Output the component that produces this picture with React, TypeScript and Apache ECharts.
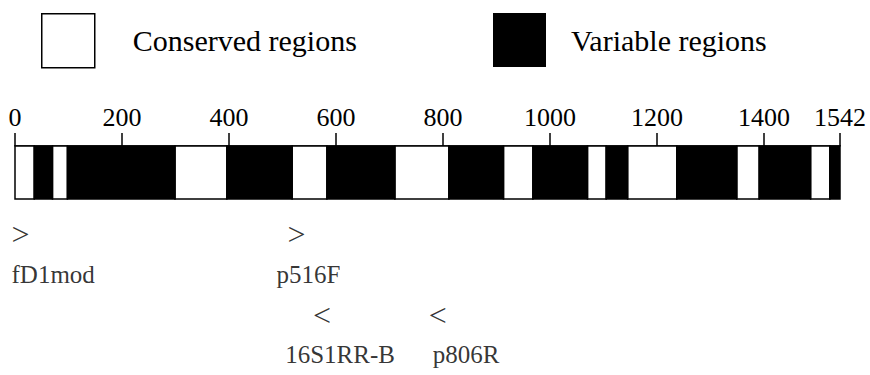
import { useEffect, useRef } from "react";
import * as echarts from "echarts";

const sequenceLength = 1542;
const tickStep = 200;
const conservedRegions = [
  [0, 36], [70, 98], [299, 396], [518, 583], [710, 811],
  [913, 968], [1070, 1105], [1145, 1237], [1349, 1391], [1487, 1523],
];
const variableRegions = [
  [36, 70], [98, 299], [396, 518], [583, 710], [811, 913],
  [968, 1070], [1105, 1145], [1237, 1349], [1391, 1487], [1523, 1542],
];
const primerNames = ["fD1mod", "p516F", "16S1RR-B", "p806R"];
const primerPositions = [0, 516, 590, 806];
const primerStrands = ["forward", "forward", "reverse", "reverse"];
const rowNames = ["forward arrow", "forward name", "reverse arrow", "reverse name"];

// layout only: horizontal shift of each primer's name label (px)
const nameOffsets = [-4, -15, -46, -14];

const FONT = "'Liberation Serif', 'Times New Roman', serif";

export default function App() {
  const ref = useRef<HTMLDivElement>(null);
  useEffect(() => {
    if (!ref.current) return;
    const chart = echarts.init(ref.current, undefined, { renderer: "svg" });
    const renderRegion = (fill: string) => (_params: any, api: any) => {
      const p0 = api.coord([api.value(0), 1]);
      const p1 = api.coord([api.value(1), 0]);
      return {
        type: "rect",
        shape: { x: p0[0], y: p0[1], width: p1[0] - p0[0], height: p1[1] - p0[1] },
        style: { fill, stroke: "#000", lineWidth: 1.5 },
      };
    };
    const arrowData = primerPositions.map((p, i) => {
      const fwd = primerStrands[i] === "forward";
      return {
        value: [p, fwd ? rowNames[0] : rowNames[2]],
        label: {
          position: fwd ? "right" : "left",
          formatter: fwd ? ">" : "<",
          offset: [fwd ? -4 : 1, 0],
        },
      };
    });
    const nameData = primerPositions.map((p, i) => {
      const fwd = primerStrands[i] === "forward";
      return {
        value: [p, fwd ? rowNames[1] : rowNames[3]],
        label: { formatter: primerNames[i], offset: [nameOffsets[i], 0] },
      };
    });
    chart.setOption({
      animation: false,
      backgroundColor: "#fff",
      legend: [
        {
          data: [
            { name: "Conserved regions", icon: "rect", itemStyle: { color: "#fff", borderColor: "#000", borderWidth: 1.5 } },
          ],
          left: 41,
          top: 13,
          padding: 0,
          itemWidth: 53,
          itemHeight: 54,
          selectedMode: false,
          textStyle: { fontSize: 30, fontFamily: FONT, color: "#000", padding: [0, 0, 0, 33] },
        },
        {
          data: [{ name: "Variable regions", icon: "rect", itemStyle: { color: "#000", borderWidth: 0 } }],
          left: 493,
          top: 13,
          padding: 0,
          itemWidth: 53,
          itemHeight: 54,
          selectedMode: false,
          textStyle: { fontSize: 30, fontFamily: FONT, color: "#000", padding: [0, 0, 0, 20] },
        },
      ],
      grid: [
        { left: 15, right: 30, top: 146, height: 53 },
        { left: 15, right: 30, top: 214, height: 164 },
      ],
      xAxis: [
        {
          gridIndex: 0,
          type: "value",
          position: "top",
          min: 0,
          max: sequenceLength,
          interval: tickStep,
          axisLine: { show: true, onZero: false, lineStyle: { color: "#000", width: 1.5 } },
          axisTick: { show: true, length: 13, lineStyle: { color: "#000", width: 1.5 } },
          axisLabel: {
            show: true,
            showMinLabel: true,
            showMaxLabel: true,
            formatter: (v: number) => String(v),
            fontSize: 26,
            fontFamily: FONT,
            color: "#000",
            margin: 16,
          },
          splitLine: { show: false },
        },
        { gridIndex: 1, type: "value", min: 0, max: sequenceLength, show: false },
      ],
      yAxis: [
        { gridIndex: 0, type: "value", min: 0, max: 1, show: false },
        { gridIndex: 1, type: "category", data: rowNames, inverse: true, show: false },
      ],
      series: [
        {
          name: "Conserved regions",
          type: "custom",
          xAxisIndex: 0,
          yAxisIndex: 0,
          itemStyle: { color: "#fff" },
          renderItem: renderRegion("#fff"),
          encode: { x: [0, 1] },
          data: conservedRegions,
        },
        {
          name: "Variable regions",
          type: "custom",
          xAxisIndex: 0,
          yAxisIndex: 0,
          itemStyle: { color: "#000" },
          renderItem: renderRegion("#000"),
          encode: { x: [0, 1] },
          data: variableRegions,
        },
        {
          name: "primer arrows",
          type: "scatter",
          xAxisIndex: 1,
          yAxisIndex: 1,
          symbolSize: 1,
          itemStyle: { color: "rgba(0,0,0,0)" },
          label: { show: true, distance: 0, fontSize: 32, fontFamily: FONT, color: "#000", textBorderWidth: 0 },
          data: arrowData,
        },
        {
          name: "primer names",
          type: "scatter",
          xAxisIndex: 1,
          yAxisIndex: 1,
          symbolSize: 1,
          itemStyle: { color: "rgba(0,0,0,0)" },
          label: { show: true, position: "right", distance: 0, fontSize: 25, fontFamily: FONT, color: "#000", textBorderWidth: 0 },
          data: nameData,
        },
      ],
    });
    return () => chart.dispose();
  }, []);
  return (
    <div
      ref={ref}
      style={{ position: "fixed", left: 0, top: 0, width: 870, height: 375, background: "#fff" }}
    />
  );
}
